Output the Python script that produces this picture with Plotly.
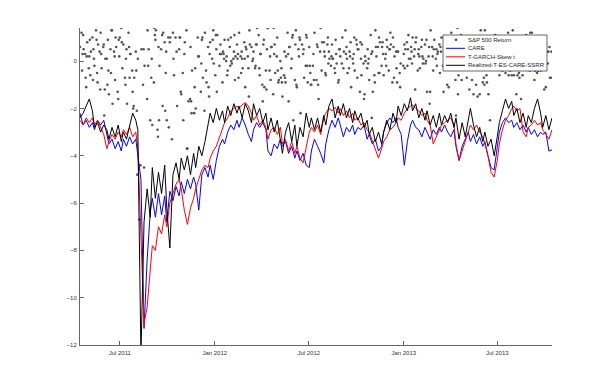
import pandas as pd
import plotly.graph_objects as go

# S&P 500 daily returns (%), one per trading day from 2011-04-15
sp500_return = [
    0.6, 1.2, -0.4, 0.3, 1.1, 0.5, 0.3, -0.7, -1.1, 0.2, 0.8, -0.3, 0.2, 0.9, -0.6, 0.4, 1.0, -0.8, 0.5, 0.1,
    -0.2, 1.3, 0.9, -0.5, -0.9, 0.7, 0.4, -1.2, 1.2, 0.3, -0.3, 0.6, 0.7, -2.3, -1.2, 0.1, 0.1, -1.0, 0.9, -0.4,
    -1.4, 0.5, -0.5, 1.3, 1.3, -1.8, 0.4, 0.2, -0.8, 1.0, 0.6, -1.3, -1.6, 0.9, 0.2, 1.0, 1.4, 0.8, -0.3, 1.5,
    0.7, -0.7, -1.0, 0.1, 0.5, -1.8, 1.2, 0.6, -0.7, 0.3, 0.3, -0.4, -1.3, -2.0, -1.9, -0.7, 0.4, -0.4, -2.1, -4.8,
    0.1, -6.7, 4.7, -4.4, 4.6, 0.5, -1.0, 0.5, -4.5, -0.2, 1.5, 3.4, -1.6, 1.3, -0.2, 0.5, -2.5, 2.9, -0.7, 0.1,
    -2.7, -0.9, 1.4, 1.1, 0.9, 1.3, -2.9, -3.2, 0.6, -2.5, -0.2, 0.5, 2.3, 1.1, -1.9, 1.2, 0.8, -2.1, -0.5, 0.4,
    -2.5, 1.0, -2.8, 2.3, 0.8, 1.0, -3.3, 3.4, 1.2, 0.1, -0.6, 1.0, 3.4, 0.4, -1.9, 1.7, 0.5, 1.0, 1.0, -1.3,
    -1.4, -0.5, -2.5, 2.5, 0.3, 0.8, 1.3, -3.7, -3.7, 1.9, -1.7, -1.6, 0.6, -1.7, -2.2, -0.4, 2.9, -2.2, -1.1, -0.3,
    -2.0, 2.9, 1.0, 0.2, 0.2, 4.3, -1.3, -0.1, 0.9, 1.0, -0.7, -2.1, 1.2, 1.7, -0.4, -0.9, 0.6, -1.1, -1.5, 0.3,
    0.8, 3.0, 0.1, 0.9, 1.3, -0.1, -0.6, 1.1, 0.5, -1.3, 1.1, 1.6, -0.2, 0.3, 0.7, 0.3, -0.9, 0.4, 0.3, 0.1,
    0.9, 0.0, 0.2, -0.6, -0.4, 0.9, 0.6, -0.2, 1.0, 0.0, -0.1, 0.1, 0.4, 1.1, -0.8, 0.2, 0.7, 0.1, 0.3, -0.7,
    1.2, 0.2, -0.5, 0.4, 0.1, -0.3, 0.8, 0.1, -1.1, 0.6, 0.5, 0.2, -0.3, -1.5, 1.3, 0.7, 0.6, 1.8, 0.0, 0.1,
    0.4, -0.3, -0.2, 0.7, 0.7, 1.4, 1.1, -0.3, -0.6, 0.3, 0.3, -1.0, -1.7, 0.7, 0.9, -1.1, -0.4, -1.2, 0.5, 1.4,
    1.4, -0.4, 0.2, -0.8, 0.6, 0.6, -1.4, 1.4, 0.3, 0.7, -0.5, 0.2, 1.0, -0.4, -0.9, -0.8, 0.0, -0.7, -0.3, -0.9,
    -1.5, -0.6, 0.4, -0.7, -0.9, 0.2, 1.2, 0.3, -1.7, 0.6, 0.6, -0.3, 0.1, 1.0, 1.1, -2.5, -0.8, 0.7, 1.3, -1.0,
    -1.1, 0.5, 0.2, 1.0, 0.9, -2.2, 0.7, 2.5, 0.3, 0.5, -0.7, -0.2, 1.1, 1.0, -0.2, -0.9, 0.6, -0.2, -0.5, -1.0,
    -1.0, -0.2, 0.3, -0.8, 1.2, 1.6, -0.8, 0.7, 0.6, -1.0, -1.6, 0.4, 1.4, 1.6, -0.4, 0.8, 0.8, 0.4, 0.2, -0.5,
    -0.6, 0.7, 1.0, -0.1, 0.4, 0.1, -0.2, 0.2, 0.7, 0.1, 0.1, -0.3, -0.5, 0.9, 0.3, -0.1, -0.9, -0.8, 0.5, 0.5,
    0.2, -0.1, 1.0, 2.0, -0.3, 0.4, 1.3, 0.3, 0.6, 0.1, -0.5, -0.3, 0.4, 0.2, 0.8, -1.1, 0.1, -0.1, 0.3, 1.0,
    -0.4, 0.9, 0.7, -0.7, 0.5, 0.5, -1.3, 0.8, 0.1, -0.6, 0.7, -0.1, -1.6, -1.4, 0.2, 0.0, -0.3, 0.5, -0.1, 0.1,
    -0.8, 1.1, 0.3, -2.4, 0.4, -1.3, -0.6, -0.9, 1.3, 0.6, 0.2, 0.6, -0.5, 1.0, -0.5, 0.8, -0.2, 0.6, 0.8, 0.3,
    -0.6, 0.1, 0.3, -0.2, 0.9, 0.6, -0.4, 0.5, 0.5, 1.2, 0.7, -0.9, 1.0, 0.6, -0.7, 0.2, 0.4, -0.3, -0.9, 0.4,
    0.4, -0.5, -1.1, -0.1, 1.7, 2.5, -0.2, 0.3, 0.7, -0.3, 0.5, 0.8, -0.2, 0.5, 1.1, 0.1, 0.1, 0.6, 0.4, -0.1,
    1.0, 0.2, 0.5, -1.2, 0.8, 1.0, -0.4, 0.3, 0.5, 0.2, -0.3, 0.6, 0.9, 0.2, -0.1, 0.1, 0.7, -0.1, 0.0, 0.9,
    -1.3, 0.2, 0.6, -1.8, -1.3, 1.3, 0.6, 0.2, -0.4, 0.5, 0.9, 0.1, 0.5, -0.2, 0.3, 0.4, 0.7, -0.5, 0.6, 0.4,
    1.0, -0.2, -1.3, 0.6, 0.8, 0.2, -0.3, -1.0, 0.4, 0.8, -1.1, 0.4, 0.7, 1.2, 0.4, -0.3, 0.1, 0.6, 0.4, -0.8,
    -2.3, 1.4, -1.4, -0.6, 0.9, 0.3, 1.1, -0.8, 0.3, 0.6, 1.0, 0.2, -0.2, 0.5, 0.4, -0.7, 0.4, 0.5, -1.2, 1.0,
    0.8, -0.8, 0.1, -0.3, -1.4, 0.6, 0.6, -1.0, 0.3, 0.6, -1.5, 0.5, -1.4, 1.0, 1.3, 0.4, -0.9, 0.8, -0.7, -1.0,
    1.3, -0.6, -0.9, 0.8, 1.0, -1.4, -2.5, 0.3, 1.0, 1.0, 0.6, 0.5, -0.3, 1.0, 1.1, 0.4, 0.2, 0.3, 0.9, 0.5,
    -0.6, 0.5, 0.5, -0.2, -0.4, 0.7, 0.3, 0.1, -0.5, 0.1, 0.1, 1.2, -0.6, 0.4, 0.2, -0.4, -0.6, -0.3, 1.3, 0.3,
    -0.6, -0.3, 0.3, -1.4, 0.5, -0.6, -0.5, -0.7, 0.4, 0.9, -1.6, -0.6, 0.8, 0.4, 0.2, 1.0, 1.1, -0.3, 0.4, 0.5,
    0.7, -0.4, 1.2, 0.3, -0.2, 1.2, 0.3, -0.3, -0.8, -0.4, -0.3, -0.5, 0.6, -0.4, 0.2, 0.8, -0.4, 0.3, 0.1, -0.2,
    0.6, -1.2, 0.8, -0.1, -1.1, 0.4, -0.1, 0.4, 2.2, 0.6, -0.7, 0.4, -0.7,
]

# ES forecasts, sampled every 4th trading day from 2011-04-15
care = [
    -2.2, -2.7, -2.5, -2.8, -2.6, -2.9, -2.5, -2.7, -2.5, -3.2, -3.5, -3.3, -3.7, -3.4, -3.8, -3.3, -3.6, -3.2, -3.5, -3.3,
    -3.9, -5.0, -11.3, -8.4, -6.4, -5.8, -6.6, -5.6, -6.5, -5.7, -6.8, -5.5, -5.9, -5.3, -5.7, -5.1, -5.6, -5.0, -5.4, -4.9,
    -5.2, -6.3, -4.8, -4.5, -4.9, -4.4, -5.0, -4.2, -3.6, -3.3, -3.5, -3.0, -2.7, -2.9, -2.5, -2.8, -2.4, -2.7, -3.1, -3.4,
    -2.9, -2.6, -2.8, -2.6, -2.9, -3.8, -4.0, -3.5, -3.7, -3.3, -3.6, -3.4, -3.9, -3.6, -4.1, -3.8, -4.2, -3.9, -4.4, -4.5,
    -3.8, -3.3, -3.6, -3.9, -4.3, -3.5, -2.9, -2.5, -2.8, -2.4, -2.7, -3.2, -2.8, -3.0, -2.7, -3.1, -2.8, -2.9, -2.7, -3.3,
    -3.1, -3.5, -3.3, -3.8, -3.6, -3.0, -2.6, -2.4, -2.6, -2.4, -2.8, -3.1, -4.4, -3.4, -2.7, -2.5, -2.8, -2.9, -3.2, -2.8,
    -3.0, -3.3, -2.9, -3.1, -2.8, -3.0, -2.7, -3.0, -3.2, -2.9, -3.6, -4.2, -3.6, -3.3, -3.0, -3.4, -3.1, -3.5, -3.2, -3.6,
    -3.4, -4.0, -4.5, -4.6, -3.6, -3.0, -2.6, -2.4, -2.6, -2.5, -2.8, -2.6, -2.9, -2.7, -3.0, -2.8, -3.1, -2.9, -3.2, -3.0,
    -3.1, -3.0, -3.8, -3.75,
]
tgarch_skewt = [
    -2.5, -2.7, -2.4, -2.6, -2.4, -2.7, -2.5, -2.8, -3.1, -3.7, -3.4, -3.1, -3.3, -3.0, -3.2, -2.9, -3.1, -2.8, -3.2, -3.0,
    -3.7, -7.4, -11.1, -10.4, -9.0, -7.8, -8.0, -7.0, -7.3, -6.5, -7.0, -6.0, -5.6, -5.2, -5.0, -5.4, -6.3, -6.9, -6.2, -5.8,
    -5.4, -5.0, -4.6, -4.4, -4.5, -4.1, -3.8, -3.6, -3.2, -2.9, -2.6, -2.4, -2.1, -2.0, -1.9, -2.0, -1.85, -1.75, -1.9, -2.2,
    -2.5, -2.3, -2.7, -2.5, -2.8, -3.3, -2.9, -2.8, -3.1, -2.8, -3.5, -3.3, -3.8, -3.4, -3.9, -3.6, -4.1, -4.3, -3.6, -3.0,
    -2.8, -3.0, -2.7, -3.1, -2.4, -2.2, -2.0, -2.1, -1.95, -2.2, -2.0, -2.3, -2.1, -2.4, -2.2, -2.5, -2.4, -2.7, -2.6, -2.9,
    -3.0, -3.4, -3.8, -4.1, -3.7, -3.4, -3.2, -2.9, -2.8, -2.6, -2.4, -2.5, -2.2, -2.0, -1.9, -1.85, -2.0, -2.1, -2.3, -2.2,
    -2.5, -2.7, -3.5, -3.2, -2.9, -2.7, -2.6, -2.5, -2.4, -2.7, -3.5, -4.2, -3.8, -3.3, -2.9, -2.7, -2.9, -2.7, -3.0, -3.2,
    -3.5, -4.0, -4.7, -4.9, -4.2, -3.5, -2.9, -2.5, -2.3, -2.0, -1.9, -2.1, -2.0, -3.0, -3.2, -2.8, -2.7, -2.5, -2.7, -2.6,
    -2.9, -3.1, -3.3, -2.9,
]
realized_care = [
    -2.4, -2.2, -1.9, -1.6, -2.1, -2.8, -2.6, -3.0, -2.7, -2.9, -3.3, -2.8, -3.2, -2.7, -3.4, -3.0, -3.3, -2.8, -2.2, -2.5,
    -2.9, -12.4, -6.8, -5.4, -6.6, -4.5, -5.8, -4.7, -5.6, -4.4, -6.2, -7.9, -4.8, -4.3, -5.0, -4.1, -4.6, -4.0, -4.8, -3.9,
    -4.5, -3.6, -4.0, -3.4, -2.6, -2.2, -2.6, -2.0, -2.5, -2.1, -2.6, -1.9, -2.3, -1.8, -2.2, -1.9, -2.4, -1.8, -2.1, -2.6,
    -1.8, -2.3, -2.0, -2.6, -2.2, -2.9, -2.4, -3.0, -2.5, -3.3, -3.9, -3.0, -2.6, -3.4, -2.7, -3.6, -2.8, -3.2, -2.2, -2.8,
    -2.4, -2.9, -2.4, -3.0, -2.3, -2.7, -1.9, -1.6, -2.4, -1.9, -2.3, -1.8, -2.4, -2.0, -2.6, -2.1, -2.5, -2.2, -2.8, -2.5,
    -3.1, -2.8, -3.4, -3.0, -3.5, -3.0, -2.5, -2.9, -2.2, -2.6, -1.9, -2.3, -1.8, -2.1, -1.55, -2.1, -1.8, -2.4, -2.0, -2.5,
    -2.1, -2.7, -2.3, -2.8, -2.2, -2.7, -2.3, -2.6, -2.2, -2.8, -2.4, -3.3, -2.6, -3.2, -2.5, -2.0, -2.7, -3.2, -2.8, -3.4,
    -3.0, -3.6, -3.3, -4.0, -3.2, -2.6, -2.1, -1.6, -2.0, -1.7, -2.3, -2.0, -2.6, -2.2, -2.8, -2.3, -2.6, -2.0, -1.6, -2.2,
    -2.8, -2.3, -2.9, -2.4,
]

ret_dates = pd.bdate_range('2011-04-15', periods=len(sp500_return))
es_dates = pd.bdate_range('2011-04-15', periods=4 * len(care) - 3)[::4]

tick_vals = ['2011-07-01', '2012-01-01', '2012-07-01', '2013-01-01', '2013-07-01']
tick_text = ['Jul 2011', 'Jan 2012', 'Jul 2012', 'Jan 2013', 'Jul 2013']

series = [('S&P 500 Return', '#555555', 'markers'),
          ('CARE', 'blue', 'lines'),
          ('T-GARCH-Skew t', 'red', 'lines'),
          ('Realized-T-ES-CARE-SSRR', 'black', 'lines')]

W, H = 602, 380
L, R, T, B = 72, 58, 20, 43
pw, ph = W - L - R, H - T - B


def px(x):
    return (x - L) / pw


def py(y):
    return (H - B - y) / ph


font = dict(family='Liberation Sans, Arial, sans-serif', size=6, color='#333333')

fig = go.Figure()
fig.add_trace(go.Scatter(x=ret_dates, y=sp500_return, name=series[0][0], mode='markers',
                         marker=dict(size=2.6, color=series[0][1], line=dict(width=0))))
for (name, color, _), values in zip(series[1:], [care, tgarch_skewt, realized_care]):
    fig.add_trace(go.Scatter(x=es_dates, y=values, name=name, mode='lines',
                             line=dict(color=color, width=1)))

# MATLAB-style compact legend box
shapes = [dict(type='rect', xref='paper', yref='paper',
               x0=px(435), x1=px(539), y0=py(63), y1=py(27),
               line=dict(color='#262626', width=0.7), fillcolor='white', layer='above')]
annotations = []
for k, (name, color, mode) in enumerate(series):
    yy = 31.8 + k * 8.5
    if mode == 'markers':
        shapes.append(dict(type='circle', xref='paper', yref='paper',
                           x0=px(446.6), x1=px(449.4), y0=py(yy + 1.4), y1=py(yy - 1.4),
                           fillcolor=color, line=dict(width=0), layer='above'))
    else:
        shapes.append(dict(type='line', xref='paper', yref='paper',
                           x0=px(438), x1=px(457), y0=py(yy), y1=py(yy),
                           line=dict(color=color, width=1), layer='above'))
    annotations.append(dict(xref='paper', yref='paper', x=px(459), y=py(yy),
                            xanchor='left', yanchor='middle', text=name, showarrow=False,
                            borderpad=0,
                            font=dict(family=font['family'], size=6, color='#262626')))

fig.update_layout(
    width=W, height=H,
    margin=dict(l=L, r=R, t=T, b=B),
    paper_bgcolor='white', plot_bgcolor='white',
    font=font,
    showlegend=False,
    shapes=shapes,
    annotations=annotations,
)
fig.update_xaxes(range=['2011-04-15', '2013-10-15'], tickvals=tick_vals, ticktext=tick_text,
                 showgrid=False, zeroline=False, showline=True, linecolor='#666666', linewidth=1,
                 ticks='inside', ticklen=4, tickcolor='#666666', ticklabelstandoff=2)
fig.update_yaxes(range=[-12, 1.4], tickvals=[-12, -10, -8, -6, -4, -2, 0],
                 showgrid=False, zeroline=False, showline=True, linecolor='#666666', linewidth=1,
                 ticks='inside', ticklen=4, tickcolor='#666666', ticklabelstandoff=1)

fig.write_html('out.html')
